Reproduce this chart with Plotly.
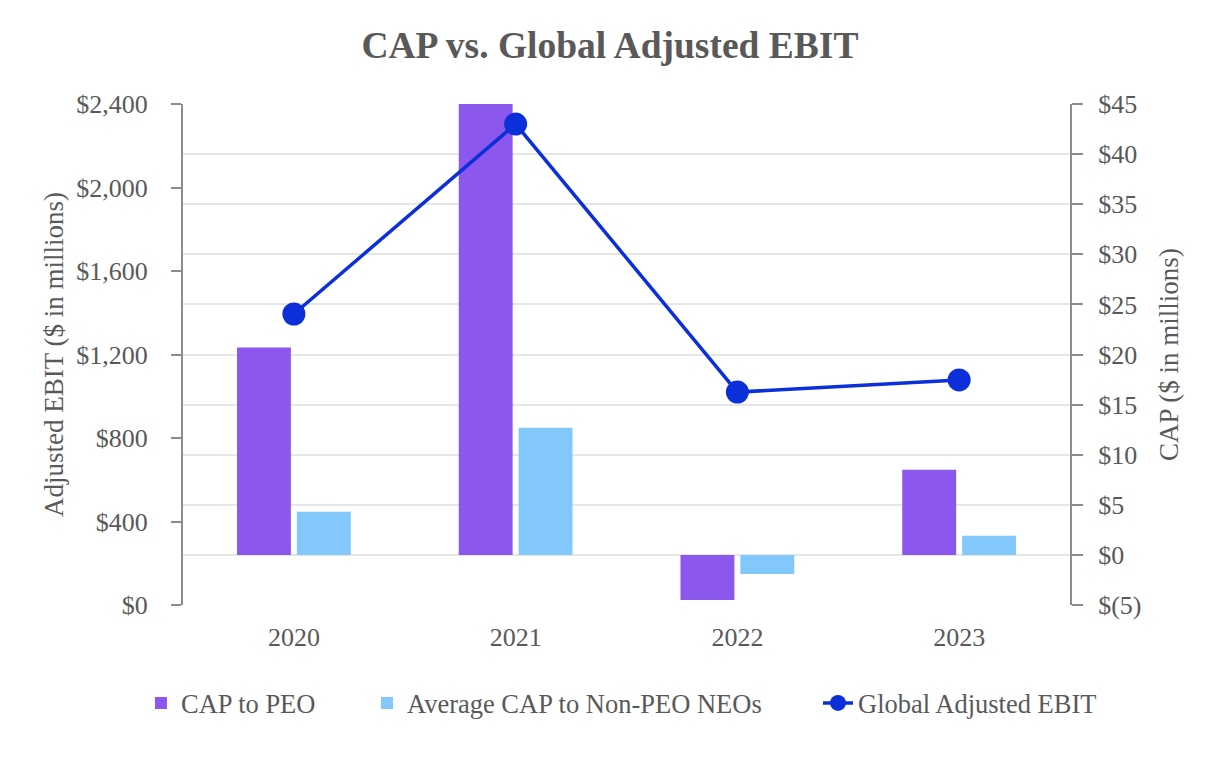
import plotly.graph_objects as go

# ---- data ----
years = ["2020", "2021", "2022", "2023"]
cap_peo = [20.7, 45.0, -4.5, 8.5]          # $ millions (right axis)
cap_non_peo = [4.3, 12.7, -1.9, 1.9]       # $ millions (right axis)
global_adj_ebit = [1394, 2304, 1020, 1078] # $ millions (left axis)

left_tick_vals = [0, 400, 800, 1200, 1600, 2000, 2400]
left_tick_text = ["$0", "$400", "$800", "$1,200", "$1,600", "$2,000", "$2,400"]
right_tick_vals = [-5, 0, 5, 10, 15, 20, 25, 30, 35, 40, 45]
right_tick_text = ["$(5)", "$0", "$5", "$10", "$15", "$20", "$25", "$30", "$35", "$40", "$45"]

FONT = "'Liberation Serif', 'Times New Roman', Times, serif"
TXT = "#595959"
PURPLE = "#8C57EC"
LIGHTBLUE = "#82C8FC"
LINEBLUE = "#0B30DA"
AXIS = "#8C8C8C"
GRID = "#E6E6E6"
LEG_FONT = dict(family=FONT, size=26.5, color=TXT)

fig = go.Figure()
fig.add_trace(go.Bar(x=years, y=cap_peo, name="CAP to PEO", legend="legend",
                     marker=dict(color=PURPLE, line=dict(width=0)), yaxis="y"))
fig.add_trace(go.Bar(x=years, y=cap_non_peo, name="Average CAP to Non-PEO NEOs", legend="legend2",
                     marker=dict(color=LIGHTBLUE, line=dict(width=0)), yaxis="y"))
fig.add_trace(go.Scatter(x=years, y=global_adj_ebit, name="Global Adjusted EBIT", legend="legend3",
                         mode="lines+markers", yaxis="y2",
                         line=dict(color=LINEBLUE, width=3.5),
                         marker=dict(color=LINEBLUE, size=23)))

fig.update_layout(
    width=1226, height=760,
    margin=dict(l=175, r=164, t=96, b=163),
    paper_bgcolor="white", plot_bgcolor="white",
    font=dict(family=FONT, color=TXT, size=26),
    title=dict(text="<b>CAP vs. Global Adjusted EBIT</b>", x=0.491, xanchor="center",
               y=1 - 37 / 760, yanchor="middle",
               font=dict(family=FONT, size=37.5, color=TXT)),
    barmode="group", bargap=0.46, bargroupgap=0.1,
    showlegend=True,
    legend=dict(orientation="h", x=-0.0474, xanchor="left", y=-0.196, yanchor="middle",
                font=LEG_FONT, bgcolor="rgba(0,0,0,0)"),
    legend2=dict(orientation="h", x=0.2074, xanchor="left", y=-0.196, yanchor="middle",
                 font=LEG_FONT, bgcolor="rgba(0,0,0,0)"),
    legend3=dict(orientation="h", x=0.7159, xanchor="left", y=-0.196, yanchor="middle",
                 font=LEG_FONT, bgcolor="rgba(0,0,0,0)"),
    xaxis=dict(type="category", showgrid=False, showline=False, ticks="",
               tickfont=dict(family=FONT, size=26, color=TXT), ticklabelstandoff=14),
    yaxis=dict(side="right", range=[-5, 45], tickvals=right_tick_vals, ticktext=right_tick_text,
               showgrid=True, gridcolor=GRID, gridwidth=2, zeroline=False,
               showline=True, linecolor=AXIS, linewidth=2,
               ticks="outside", ticklen=11, tickwidth=2, tickcolor=AXIS,
               ticklabelstandoff=10,
               tickfont=dict(family=FONT, size=26, color=TXT),
               title=dict(text="CAP ($ in millions)", standoff=19,
                          font=dict(family=FONT, size=27, color=TXT))),
    yaxis2=dict(side="left", overlaying="y", range=[0, 2400],
                tickvals=left_tick_vals, ticktext=left_tick_text,
                showgrid=False, zeroline=False,
                showline=True, linecolor=AXIS, linewidth=2,
                ticks="outside", ticklen=10, tickwidth=2, tickcolor=AXIS,
                ticklabelstandoff=18,
                tickfont=dict(family=FONT, size=26, color=TXT),
                title=dict(text="Adjusted EBIT ($ in millions)", standoff=5,
                           font=dict(family=FONT, size=27, color=TXT))),
)

fig.write_html("out.html")
